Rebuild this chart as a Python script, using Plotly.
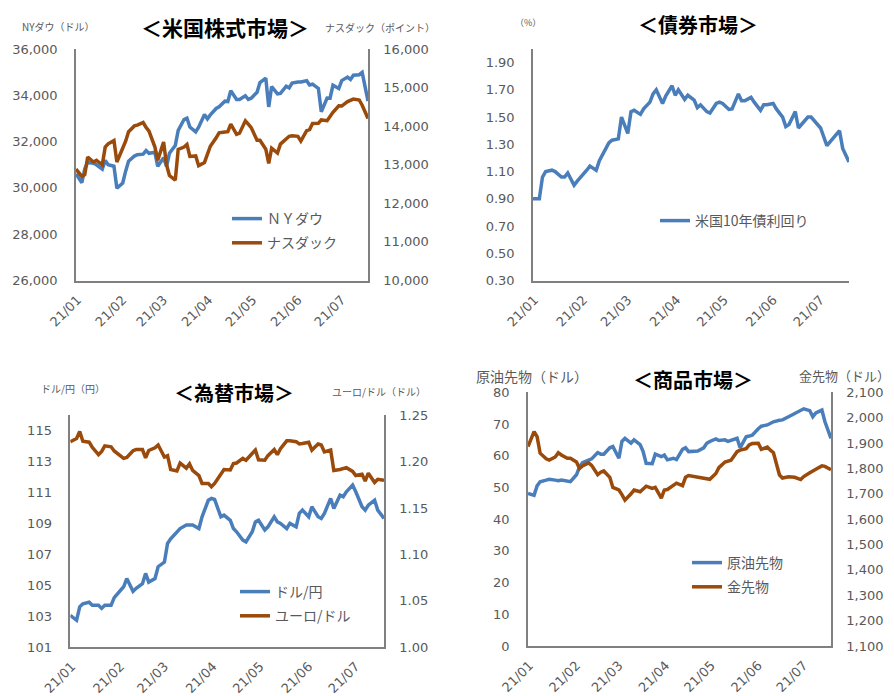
import pandas as pd
import plotly.graph_objects as go

# ---------------- data (every other business day, 2020-12-31 .. 2021-07-19) ----------------
ALL_BDAYS = pd.bdate_range("2020-12-31", "2021-07-19")
DATES = ALL_BDAYS[::2]

NY_DOW = [30606, 30223, 30829, 31098, 31068, 31000, 30814, 31188, 30997, 30937,
          29983, 30212, 30724, 31148, 31376, 31431, 31458, 31613, 31494, 31537,
          30932, 31300, 30924, 31496, 31833, 32485, 32953, 33015, 32628, 32423,
          32619, 33171, 32982, 33153, 33430, 33503, 33745, 33730, 34200, 33821,
          33815, 33981, 33820, 33875, 34133, 34548, 34743, 33500, 34382, 34061,
          34084, 34394, 34323, 34529, 34575, 34577, 34630, 34447, 34480, 34299,
          33290, 33877, 33874, 34433, 34292, 34634, 34786, 34681, 34870, 34889,
          34987, 33750]

NASDAQ = [12888, 12698, 12741, 13202, 13072, 13112, 12998, 13457, 13543, 13626,
          13070, 13403, 13610, 13856, 14007, 14025, 14095, 13966, 13874, 13465,
          13119, 13589, 12998, 12720, 12600, 13399, 13459, 13525, 13215, 13228,
          12977, 13060, 13247, 13480, 13698, 13829, 13850, 13857, 14052, 13787,
          13818, 14138, 14051, 13962, 13634, 13633, 13402, 13032, 13430, 13303,
          13535, 13661, 13738, 13749, 13736, 13614, 13882, 13911, 14069, 14073,
          14161, 14141, 14272, 14360, 14528, 14522, 14639, 14665, 14701, 14678,
          14543, 14200]

US10Y = [0.90, 0.90, 1.06, 1.10, 1.11, 1.10, 1.06, 1.06, 1.09, 1.00,
         1.03, 1.08, 1.11, 1.14, 1.11, 1.18, 1.27, 1.31, 1.33, 1.34,
         1.50, 1.38, 1.54, 1.55, 1.52, 1.56, 1.61, 1.67, 1.70, 1.60,
         1.655, 1.73, 1.66, 1.70, 1.63, 1.66, 1.625, 1.57, 1.59, 1.54,
         1.53, 1.60, 1.61, 1.60, 1.556, 1.56, 1.67, 1.62, 1.62, 1.645,
         1.61, 1.55, 1.59, 1.59, 1.60, 1.56, 1.50, 1.43, 1.445, 1.54,
         1.42, 1.47, 1.50, 1.50, 1.45, 1.42, 1.29, 1.32, 1.34, 1.40,
         1.27, 1.17]

USDJPY = [103.05, 102.73, 103.6, 103.8, 103.9, 103.7, 103.7, 103.5, 103.7, 103.7,
          104.2, 104.68, 104.9, 105.43, 104.6, 104.8, 105.1, 105.76, 105.2, 105.43,
          106.2, 106.5, 107.7, 108.0, 108.46, 108.67, 108.9, 108.9, 108.9, 108.67,
          109.43, 110.5, 110.62, 110.55, 109.43, 109.54, 109.2, 108.67, 108.46, 107.92,
          107.81, 108.46, 109.1, 109.2, 108.57, 108.78, 109.43, 109.1, 109.0, 108.67,
          109.0, 108.78, 109.65, 109.86, 109.43, 110.08, 109.43, 109.32, 109.65, 110.62,
          109.97, 110.83, 110.73, 111.05, 111.48, 111.05, 110.08, 109.86, 110.18, 110.5,
          109.86, 109.32]

EURUSD = [1.2215, 1.2250, 1.2326, 1.2220, 1.2210, 1.2155, 1.2075, 1.2110, 1.2170, 1.2160,
          1.2115, 1.2060, 1.2035, 1.2045, 1.2118, 1.2130, 1.2130, 1.2040, 1.2120, 1.2150,
          1.2180, 1.2050, 1.2065, 1.1915, 1.1900, 1.1985, 1.1930, 1.1975, 1.1905, 1.1850,
          1.1765, 1.1765, 1.1730, 1.1765, 1.1875, 1.1915, 1.1910, 1.1980, 1.1985, 1.2035,
          1.2015, 1.2085, 1.2125, 1.2020, 1.2015, 1.2065, 1.2130, 1.2075, 1.2140, 1.2225,
          1.2225, 1.2215, 1.2190, 1.2195, 1.2210, 1.2125, 1.2190, 1.2180, 1.2105, 1.2125,
          1.1905, 1.1915, 1.1925, 1.1935, 1.1895, 1.1850, 1.1865, 1.1790, 1.1875, 1.1775,
          1.1810, 1.1800]

WTI = [48.1, 47.5, 50.5, 51.8, 52.3, 52.6, 52.3, 52.1, 52.3, 52.0,
       51.8, 54.0, 56.5, 57.8, 58.7, 59.0, 61.0, 60.5, 60.5, 62.5,
       62.9, 59.2, 64.5, 65.5, 64.0, 65.0, 63.5, 61.3, 57.6, 57.5,
       60.5, 59.7, 60.2, 58.7, 59.2, 58.8, 62.0, 62.5, 61.3, 61.3,
       61.5, 62.5, 63.9, 64.5, 65.3, 64.8, 65.0, 64.5, 64.8, 65.5,
       62.5, 66.0, 66.2, 66.5, 68.5, 69.3, 69.7, 70.2, 70.7, 71.2,
       71.3, 72.3, 72.8, 73.4, 74.3, 74.8, 74.2, 72.3, 73.5, 74.4,
       70.7, 65.5]

GOLD = [1886, 1945, 1925, 1860, 1838, 1833, 1845, 1862, 1853, 1840,
        1840, 1825, 1800, 1810, 1822, 1812, 1775, 1785, 1790, 1765,
        1725, 1715, 1697, 1675, 1700, 1715, 1708, 1720, 1730, 1721,
        1725, 1683, 1715, 1717, 1733, 1742, 1732, 1765, 1772, 1768,
        1766, 1762, 1760, 1757, 1780, 1803, 1825, 1828, 1832, 1866,
        1872, 1878, 1893, 1898, 1899, 1875, 1884, 1872, 1862, 1774,
        1762, 1767, 1766, 1765, 1756, 1768, 1783, 1792, 1797, 1810,
        1808, 1795]

MONTH_TICKS = ["2021-01-01", "2021-02-01", "2021-03-01", "2021-04-01",
               "2021-05-01", "2021-06-01", "2021-07-01"]
MONTH_LABELS = ["21/01", "21/02", "21/03", "21/04", "21/05", "21/06", "21/07"]

DOW_TICKS = [26000, 28000, 30000, 32000, 34000, 36000]
NASDAQ_TICKS = [10000, 11000, 12000, 13000, 14000, 15000, 16000]
YIELD_TICKS = [0.3, 0.5, 0.7, 0.9, 1.1, 1.3, 1.5, 1.7, 1.9]
USDJPY_TICKS = [101, 103, 105, 107, 109, 111, 113, 115]
EURUSD_TICKS = [1.00, 1.05, 1.10, 1.15, 1.20, 1.25]
WTI_TICKS = [0, 10, 20, 30, 40, 50, 60, 70, 80]
GOLD_TICKS = [1100, 1200, 1300, 1400, 1500, 1600, 1700, 1800, 1900, 2000, 2100]

# ---------------- styling ----------------
# The page body keeps its default 8px margin, so the figure is sized to fit the
# window and every pixel position below is given in window coordinates.
OFF = 8
W, H = 894 - OFF, 696 - OFF
BLUE = "#4A7EBB"
BROWN = "#9A4A0B"
GRAY = "#595959"
AXIS_LINE = "#808080"
NUM_FONT = dict(family="DejaVu Sans, Noto Sans CJK JP", size=13, color=GRAY)
JP = "Noto Sans CJK JP"


def px(x):
    return (x - OFF) / W


def py(y):
    return 1 - (y - OFF) / H


def xaxis_style(x0, x1, anchor):
    return dict(domain=[px(x0), px(x1)], anchor=anchor, type="date",
                range=["2020-12-31", "2021-07-19"], automargin=False,
                tickmode="array", tickvals=MONTH_TICKS, ticktext=MONTH_LABELS,
                tickangle=-45, tickfont=NUM_FONT, ticks="", showgrid=False,
                zeroline=False, showline=True, linecolor=AXIS_LINE, linewidth=1.5,
                ticklabelstandoff=5, fixedrange=True)


def yaxis_style(y_top, y_bot, anchor, rng, ticks, fmt, side="left", overlay=None,
                line=True):
    d = dict(domain=[py(y_bot), py(y_top)], anchor=anchor, range=rng,
             automargin=False,
             tickmode="array", tickvals=ticks, tickformat=fmt, side=side,
             tickfont=NUM_FONT, ticks="", showgrid=False, zeroline=False,
             showline=line, linecolor=AXIS_LINE, linewidth=1.5,
             ticklabelstandoff=14 if side == "left" else 11, fixedrange=True)
    if overlay:
        d["overlaying"] = overlay
    return d


fig = go.Figure()


def add_line(y, name, color, xa, ya, legend):
    fig.add_trace(go.Scatter(x=DATES, y=y, name=name, mode="lines",
                             line=dict(color=color, width=3.5),
                             xaxis=xa, yaxis=ya, legend=legend, legendgroup=name,
                             hoverinfo="skip"))


add_line(NY_DOW, "ＮＹダウ", BLUE, "x", "y", "legend")
add_line(NASDAQ, "ナスダック", BROWN, "x", "y2", "legend")
add_line(US10Y, "米国10年債利回り", BLUE, "x2", "y3", "legend2")
add_line(USDJPY, "ドル/円", BLUE, "x3", "y4", "legend3")
add_line(EURUSD, "ユーロ/ドル", BROWN, "x3", "y5", "legend3")
add_line(WTI, "原油先物", BLUE, "x4", "y6", "legend4")
add_line(GOLD, "金先物", BROWN, "x4", "y7", "legend4")

# panel geometry (window pixels)
P1 = dict(x0=76, x1=368, top=49, bot=280.5)
P2 = dict(x0=533, x1=849, top=49, bot=280.5)
P3 = dict(x0=70.3, x1=384, top=415.3, bot=647)
P4 = dict(x0=528, x1=831, top=392.3, bot=646)

layout = dict(
    width=W, height=H, margin=dict(l=0, r=0, t=0, b=0, autoexpand=False),
    paper_bgcolor="white", plot_bgcolor="rgba(0,0,0,0)",
    hovermode=False,
    xaxis=xaxis_style(P1["x0"], P1["x1"], "y"),
    yaxis=yaxis_style(P1["top"], P1["bot"], "x", [26000, 36000], DOW_TICKS, ","),
    yaxis2=yaxis_style(P1["top"], P1["bot"], "x", [10000, 16000], NASDAQ_TICKS, ",",
                       side="right", overlay="y"),
    xaxis2=xaxis_style(P2["x0"], P2["x1"], "y3"),
    yaxis3=yaxis_style(P2["top"], P2["bot"], "x2", [0.3, 2.0], YIELD_TICKS, ".2f"),
    xaxis3=xaxis_style(P3["x0"], P3["x1"], "y4"),
    yaxis4=yaxis_style(P3["top"], P3["bot"], "x3", [101, 116], USDJPY_TICKS, "d"),
    yaxis5=yaxis_style(P3["top"], P3["bot"], "x3", [1.00, 1.25], EURUSD_TICKS, ".2f",
                       side="right", overlay="y4"),
    xaxis4=xaxis_style(P4["x0"], P4["x1"], "y6"),
    yaxis6=yaxis_style(P4["top"], P4["bot"], "x4", [0, 80], WTI_TICKS, "d"),
    yaxis7=yaxis_style(P4["top"], P4["bot"], "x4", [1100, 2100], GOLD_TICKS, ",",
                       side="right", overlay="y6"),
)

LEG_FONT = dict(family=JP, size=14, color=GRAY)


def legend_at(x, y):
    return dict(x=px(x), y=py(y), xanchor="left", yanchor="top",
                bgcolor="rgba(0,0,0,0)", borderwidth=0, font=LEG_FONT,
                tracegroupgap=3, itemclick=False, itemdoubleclick=False)


layout["legend"] = legend_at(227, 203)
layout["legend2"] = legend_at(655, 205)
layout["legend3"] = legend_at(235, 576)
layout["legend4"] = legend_at(687, 547)
fig.update_layout(**layout)


# titles and axis captions
def note(text, x, y, size, color, anchor="center", bold=False):
    fig.add_annotation(text=f"<b>{text}</b>" if bold else text,
                       x=px(x), y=py(y), xref="paper", yref="paper",
                       xanchor=anchor, yanchor="middle", showarrow=False,
                       font=dict(family=JP, size=size, color=color))


note("＜米国株式市場＞", 225, 27, 21, "black", bold=True)
note("＜債券市場＞", 698, 24, 20, "black", bold=True)
note("＜為替市場＞", 234, 392, 20, "black", bold=True)
note("＜商品市場＞", 693, 379, 20, "black", bold=True)

note("NYダウ（ドル）", 20, 26, 10, GRAY, anchor="left")
note("ナスダック（ポイント）", 437, 27, 10, GRAY, anchor="right")
note("（%）", 513, 22, 9, GRAY, anchor="left")
note("ドル/円（円）", 39, 388, 10, GRAY, anchor="left")
note("ユーロ/ドル（ドル）", 428, 391, 10, GRAY, anchor="right")
note("原油先物（ドル）", 474, 376, 14, GRAY, anchor="left")
note("金先物（ドル）", 892, 376, 13, GRAY, anchor="right")

fig.write_html("out.html")
